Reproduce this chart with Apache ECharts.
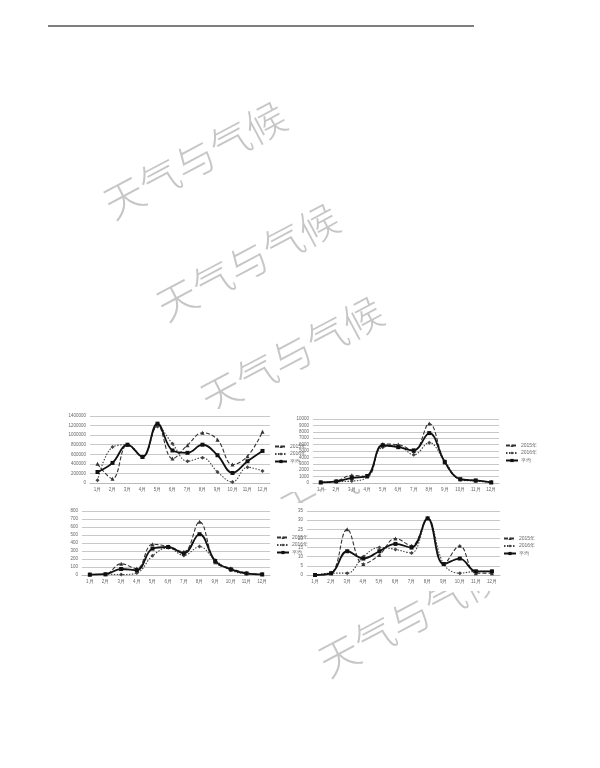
<!DOCTYPE html>
<html><head><meta charset="utf-8">
<script src="https://cdn.jsdelivr.net/npm/echarts@6/dist/echarts.min.js"></script>
<style>html,body{margin:0;padding:0;background:#fff}#c{width:600px;height:768px}</style>
</head><body><div id="c"></div>
<script>
const months = ['1月','2月','3月','4月','5月','6月','7月','8月','9月','10月','11月','12月'];
const seriesNames = ['2015年','2016年','平均'];
const watermarkText = '天气与气候';

const c1_s1 = [400000, 90000, 800000, 545000, 1210000, 510000, 790000, 1050000, 905000, 385000, 560000, 1070000];
const c1_s2 = [55000, 750000, 800000, 545000, 1180000, 820000, 455000, 530000, 230000, 20000, 330000, 250000];
const c1_avg = [230000, 420000, 800000, 545000, 1240000, 680000, 630000, 800000, 580000, 210000, 455000, 670000];

const c2_s1 = [100, 300, 1200, 1000, 6100, 6000, 5000, 9300, 3200, 600, 400, 100];
const c2_s2 = [100, 200, 300, 1000, 5600, 5800, 4400, 6300, 3400, 500, 300, 100];
const c2_avg = [100, 250, 800, 1100, 5900, 5600, 5100, 7800, 3300, 600, 400, 100];

const c3_s1 = [5, 10, 140, 80, 385, 355, 290, 665, 160, 85, 25, 8];
const c3_s2 = [5, 10, 5, 25, 240, 340, 245, 355, 185, 60, 15, 8];
const c3_avg = [5, 10, 75, 60, 330, 350, 270, 510, 175, 70, 20, 8];

const c4_s1 = [0, 1, 25, 6, 11, 20, 16, 31, 6, 16, 1, 1];
const c4_s2 = [0, 1, 1, 10, 15, 14, 12, 31, 6, 1, 2, 2];
const c4_avg = [0, 1, 13, 9, 13, 17, 15, 31, 6, 9, 2, 2];

const charts = [
  {data:[c1_s1,c1_s2,c1_avg], max:1400000, interval:200000, grid:{left:90,top:416,width:180,height:67}, legend:{left:274,top:444}},
  {data:[c2_s1,c2_s2,c2_avg], max:10000, interval:1000, grid:{left:313,top:419,width:186,height:64}, legend:{left:505,top:443}},
  {data:[c3_s1,c3_s2,c3_avg], max:800, interval:100, grid:{left:82,top:511,width:188,height:64}, legend:{left:276,top:535}},
  {data:[c4_s1,c4_s2,c4_avg], max:35, interval:5, grid:{left:307,top:511,width:193,height:64}, legend:{left:503,top:536}}
];

const styles = [
  {symbol:'triangle', lineStyle:{type:[4,2], width:1.1, color:'#333'}, itemStyle:{color:'#333'}},
  {symbol:'diamond', lineStyle:{type:[1.5,1.5], width:1.1, color:'#444'}, itemStyle:{color:'#444'}},
  {symbol:'rect', lineStyle:{type:'solid', width:1.8, color:'#111'}, itemStyle:{color:'#111'}}
];

const grids=[], xAxes=[], yAxes=[], series=[], legends=[];
charts.forEach((c,i)=>{
  grids.push(Object.assign({show:false}, c.grid));
  xAxes.push({type:'category', gridIndex:i, data:months, boundaryGap:true,
    axisLine:{show:true, lineStyle:{color:'#bbb', width:1}}, axisTick:{show:false},
    axisLabel:{fontSize:4.5, color:'#666', margin:4, interval:0}});
  yAxes.push({type:'value', gridIndex:i, min:0, max:c.max, interval:c.interval,
    axisLine:{show:false}, axisTick:{show:false},
    axisLabel:{fontSize:4.5, color:'#666', margin:4, formatter:v=>String(v)},
    splitLine:{lineStyle:{color:'#c8c8c8', width:1}}});
  c.data.forEach((d,j)=>{
    series.push(Object.assign({type:'line', name:seriesNames[j], xAxisIndex:i, yAxisIndex:i,
      data:d, smooth:0.4, symbolSize:4, showSymbol:true, animation:false, z:3}, JSON.parse(JSON.stringify(styles[j]))));
  });
  legends.push({orient:'vertical', left:c.legend.left, top:c.legend.top, itemWidth:12, itemHeight:4, itemGap:2.5,
    data:seriesNames, textStyle:{fontSize:5, color:'#666', padding:[0,0,0,-2]}, padding:0, selectedMode:false});
});

function wm(cx, cy){
  return {type:'text', x:cx, y:cy, rotation:28*Math.PI/180, z:-10,
    style:{text:watermarkText, fontSize:40, letterSpacing:4, fontFamily:'Noto Sans CJK SC', fontWeight:300,
      fill:'#c6c6c6', textAlign:'center', textVerticalAlign:'middle'}};
}
const graphics = [
  {type:'line', shape:{x1:48,y1:26,x2:474,y2:26}, style:{stroke:'#555', lineWidth:1.5}, z:1},
  wm(195,160), wm(248,262), wm(292,355), wm(372,466), wm(410,618),
  {type:'rect', shape:{x:62,y:409,width:238,height:83}, style:{fill:'#fff'}, z:-5},
  {type:'rect', shape:{x:300,y:400,width:248,height:89}, style:{fill:'#fff'}, z:-5},
  {type:'rect', shape:{x:62,y:503,width:238,height:82}, style:{fill:'#fff'}, z:-5},
  {type:'rect', shape:{x:300,y:503,width:248,height:88}, style:{fill:'#fff'}, z:-5}
];

const chart = echarts.init(document.getElementById('c'), null, {renderer:'canvas'});
chart.setOption({
  backgroundColor:'#fff', animation:false,
  grid:grids, xAxis:xAxes, yAxis:yAxes, series:series, legend:legends, graphic:graphics
});
</script></body></html>
